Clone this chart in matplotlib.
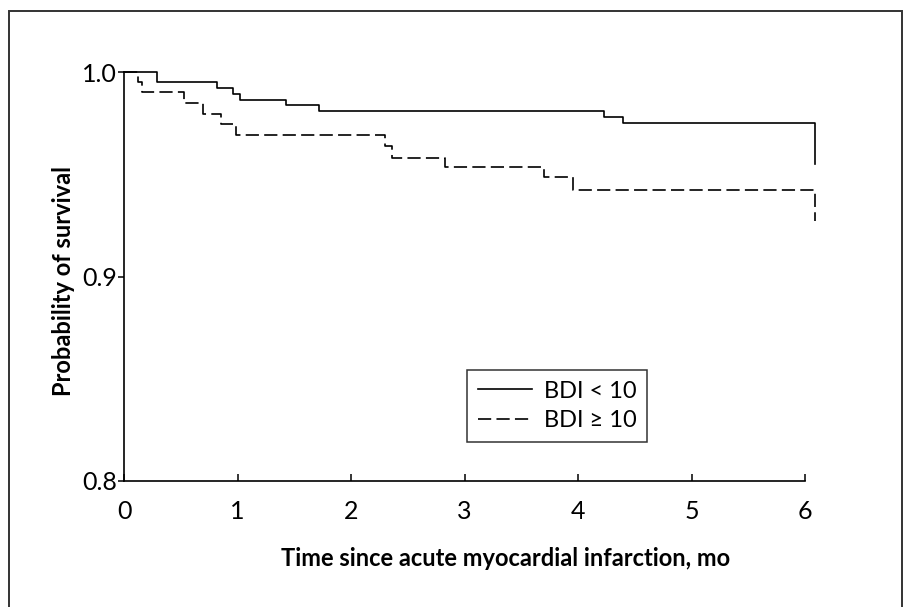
import matplotlib
matplotlib.use("Agg")
import matplotlib.pyplot as plt
from matplotlib.patches import Rectangle

# ---- data ----
low_bdi_time = [0, 0.29, 0.82, 0.96, 1.02, 1.43, 1.72, 4.23, 4.40, 6.09]
low_bdi_surv = [1.0, 0.995, 0.992, 0.989, 0.9865, 0.984, 0.981, 0.978, 0.975, 0.955]

high_bdi_time = [0, 0.12, 0.155, 0.53, 0.70, 0.855, 0.99, 2.30, 2.36, 2.83, 3.70, 3.96, 6.09]
high_bdi_surv = [1.0, 0.995, 0.990, 0.9847, 0.9795, 0.9744, 0.969, 0.964, 0.958, 0.9534, 0.9485, 0.9423, 0.927]

x_ticks = [0, 1, 2, 3, 4, 5, 6]
y_ticks = [0.8, 0.9, 1.0]
y_tick_labels = ["0.8", "0.9", "1.0"]
legend_labels = ["BDI < 10", "BDI \u2265 10"]
x_label = "Time since acute myocardial infarction, mo"
y_label = "Probability of survival"

plt.rcParams['font.family'] = ['Lato', 'DejaVu Sans']
plt.rcParams['lines.scale_dashes'] = False

fig = plt.figure(figsize=(9.05, 6.07), dpi=100)
ax = fig.add_axes([124/905, 1-481/607, (805-124)/905, (481-72)/607])

lw = 1.2
ax.step(low_bdi_time, low_bdi_surv, where='post', color='black', lw=lw,
        clip_on=False, label=legend_labels[0])
ax.step(high_bdi_time, high_bdi_surv, where='post', color='black', lw=lw,
        dashes=(9.5, 3.8), clip_on=False, label=legend_labels[1])

ax.set_xlim(0, 6)
ax.set_ylim(0.8, 1.0)
ax.set_xticks(x_ticks)
ax.set_yticks(y_ticks)
ax.set_yticklabels(y_tick_labels)
for s in ['top', 'right']:
    ax.spines[s].set_visible(False)
for s in ['left', 'bottom']:
    ax.spines[s].set_linewidth(1.2)
ax.tick_params(axis='x', direction='in', length=5, width=1.1, labelsize=18, pad=14)
ax.tick_params(axis='y', direction='out', length=4, width=1.1, labelsize=18, pad=1)

ax.set_xlabel(x_label, fontsize=17, fontweight='bold', va='center')
ax.xaxis.set_label_coords((505.5 - 124) / 681, (481 - 558) / 409)
ax.set_ylabel(y_label, fontsize=17, fontweight='bold', va='center')
ax.yaxis.set_label_coords((63.5 - 124) / 681, (481 - 281.5) / 409)

leg = ax.legend(loc='upper left', bbox_to_anchor=((467-124)/681, (481-370)/409),
                frameon=True, fancybox=False, fontsize=17, handlelength=2.3,
                borderpad=0.45, labelspacing=0.35, handletextpad=0.5, borderaxespad=0)
leg.get_frame().set_edgecolor('black')
leg.get_frame().set_linewidth(1.1)

fig.patches.append(Rectangle((9/905, -0.02), (902-9)/905, 1.02 - 10.5/607,
                             transform=fig.transFigure, fill=False,
                             edgecolor='#333333', lw=1.4))

fig.savefig("out.png", dpi=100)
